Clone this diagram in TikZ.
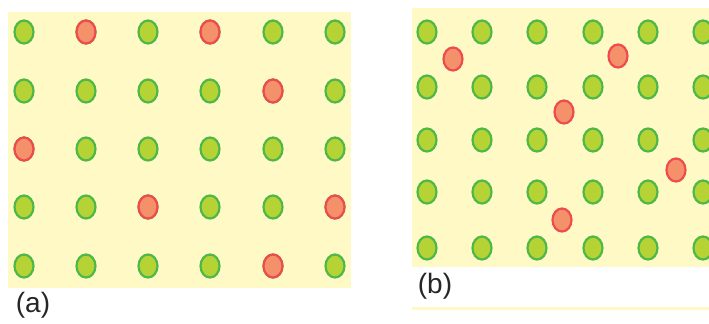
\documentclass[tikz,border=0pt]{standalone}
\usepackage{fontspec}
\setmainfont{Liberation Sans}
\definecolor{panelbg}{HTML}{FFF9C6}
\definecolor{okfill}{HTML}{B6D335}
\definecolor{okline}{HTML}{4DB848}
\definecolor{badfill}{HTML}{F4906A}
\definecolor{badline}{HTML}{EE4C4C}

\begin{document}
\begin{tikzpicture}[
  x=0.5pt, y=-0.5pt,
  panel/.style={fill=panelbg, draw=none},
  gdot/.style={fill=okfill, draw=okline, line width=1.1pt},
  rdot/.style={fill=badfill, draw=badline, line width=1.1pt},
  lbl/.style={font=\fontsize{14}{16}\selectfont, inner sep=0pt, text=black!85}
]
\useasboundingbox (0,0) rectangle (709,323);

% panel (a): regular grid with some red points
\fill[panel] (8,12) rectangle (351,288);
\foreach \y [count=\r] in {32,91,149,207,266}
  \foreach \x [count=\c] in {24,86,148,210,273,335}
    \draw[gdot] (\x,\y) ellipse (9.5 and 11.5);
\foreach \x/\y in {86/32, 210/32, 273/91, 24/149, 148/207, 335/207, 273/266}
  \draw[rdot] (\x,\y) ellipse (9.5 and 11.5);
\node[lbl] (labelA) at (33,305) {(a)};

% panel (b): regular grid with red points in between
\fill[panel] (412,8) rectangle (709,267);
\fill[panel] (412,307) rectangle (709,310);
\foreach \y in {32,87,140,192,248}
  \foreach \x in {427,482,537,593,648,703}
    \draw[gdot] (\x,\y) ellipse (9.5 and 11.5);
\foreach \x/\y in {453/59, 618/56, 564/112, 676/170, 562/220}
  \draw[rdot] (\x,\y) ellipse (9.5 and 11.5);
\node[lbl] (labelB) at (435,286) {(b)};
\end{tikzpicture}
\end{document}
